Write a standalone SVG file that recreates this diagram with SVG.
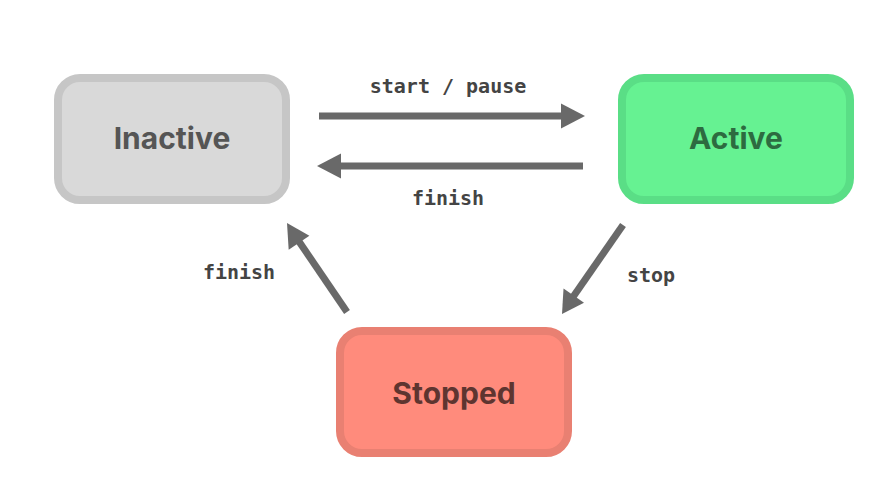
<svg xmlns="http://www.w3.org/2000/svg" width="894" height="500" viewBox="0 0 894 500">
<style>
.node rect{stroke-width:8}
.nlabel{font-family:Inter,"Open Sans","Liberation Sans",sans-serif;font-weight:700;font-size:30px;text-anchor:middle}
.elabel{font-family:"DejaVu Sans Mono","Liberation Mono",monospace;font-weight:700;font-size:20px;fill:#444;text-anchor:middle}
.edge{stroke:#696969;stroke-width:7;fill:none}
.head{fill:#696969}
</style>
<rect width="894" height="500" fill="#ffffff"/>
<g id="inactive" class="node">
<rect x="58" y="78" width="228" height="122" rx="22" fill="#d9d9d9" stroke="#c6c6c6"/>
<text class="nlabel" x="172" y="149" fill="#555555">Inactive</text>
</g>
<g id="active" class="node">
<rect x="622" y="78" width="228" height="122" rx="22" fill="#66f292" stroke="#5ade86"/>
<text class="nlabel" x="736" y="149" fill="#2d6b40">Active</text>
</g>
<g id="stopped" class="node">
<rect x="340" y="331" width="228" height="122" rx="22" fill="#ff8b7c" stroke="#e98072"/>
<text class="nlabel" x="454" y="404" fill="#5e3530">Stopped</text>
</g>
<g id="connectors">
<line class="edge" x1="319" y1="116" x2="563" y2="116"/>
<polygon class="head" points="585,116 561,103.5 561,128.5"/>
<line class="edge" x1="583" y1="166" x2="339" y2="166"/>
<polygon class="head" points="317,166 341,153.5 341,178.5"/>
<line class="edge" x1="347" y1="312" x2="298" y2="240"/>
<polygon class="head" points="287,223 309.4,235.7 288.7,249.7"/>
<line class="edge" x1="623" y1="225" x2="573" y2="297"/>
<polygon class="head" points="562,314 563.5,288.5 584.0,302.7"/>
<text class="elabel" x="448" y="93">start / pause</text>
<text class="elabel" x="448" y="205">finish</text>
<text class="elabel" x="239" y="279">finish</text>
<text class="elabel" x="651" y="282">stop</text>
</g>
</svg>
